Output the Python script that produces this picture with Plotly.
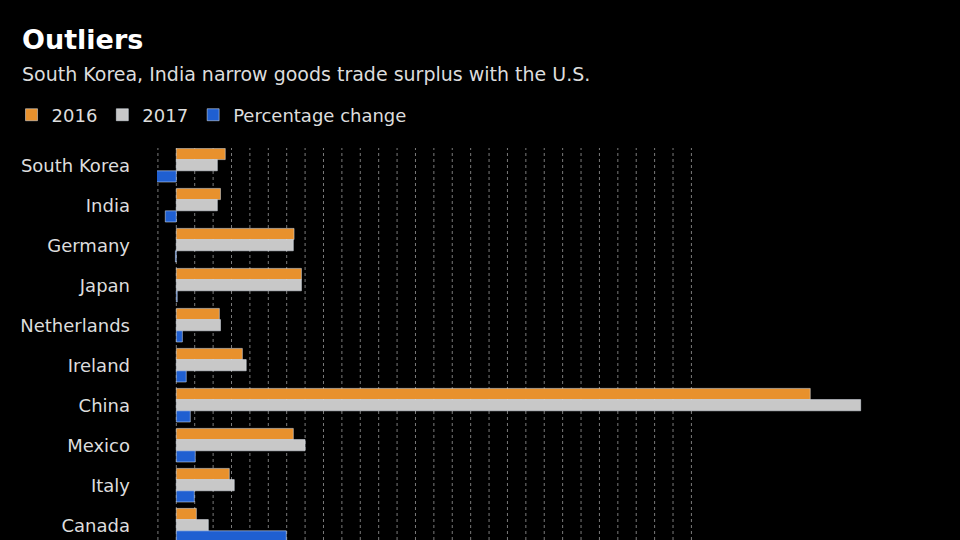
import plotly.graph_objs as go


def plot_outliers(outfile):
    countries = ['South Korea', 'India', 'Germany', 'Japan', 'Netherlands',
                 'Ireland', 'China', 'Mexico', 'Italy', 'Canada']
    y2016 = [26.6, 24.0, 64.0, 68.0, 23.4, 35.9, 344.6, 63.6, 28.8, 10.9]
    y2017 = [22.3, 22.3, 63.6, 68.0, 24.0, 38.0, 372.0, 70.0, 31.5, 17.4]
    pct = [-17.4, -6.0, -0.5, 0.5, 3.3, 5.4, 7.6, 10.3, 9.8, 59.8]

    data = [
        go.Bar(name='2016', y=countries, x=y2016, orientation='h', marker_color='#e8912d'),
        go.Bar(name='2017', y=countries, x=y2017, orientation='h', marker_color='#c8c8c8'),
        go.Bar(name='Percentage change', y=countries, x=pct, orientation='h', marker_color='#1f5fd1'),
    ]

    shapes = []
    for v in range(-10, 290, 10):  # dotted grid, stops short of China
        shapes.append(dict(type='line', xref='x', yref='paper', x0=v, x1=v, y0=0, y1=1,
                           line=dict(color='#7a7a7a', width=1, dash='dot'), layer='below'))

    layout = go.Layout(
        width=960, height=540,
        paper_bgcolor='black', plot_bgcolor='black',
        font=dict(family='DejaVu Sans', color='#dddddd', size=17),
        barmode='group', bargap=0.16, bargroupgap=0,
        margin=dict(l=157, r=0, t=148, b=0),
        showlegend=True,
        legend=dict(orientation='h', x=0.012, y=0.787, xref='container', yref='container',
                    yanchor='middle', font=dict(size=18, color='#dddddd'), traceorder='normal',
                    bgcolor='rgba(0,0,0,0)'),
        xaxis=dict(range=[-10.5, 426], showgrid=False, zeroline=False, showticklabels=False),
        yaxis=dict(range=[9.37, -0.43], showgrid=False, ticks='', ticklabelstandoff=26,
                   tickfont=dict(size=18)),
        shapes=shapes,
        annotations=[
            dict(text='<b>Outliers</b>', x=-0.17, y=1.276, xref='paper', yref='paper', xanchor='left',
                 yanchor='middle', showarrow=False, font=dict(size=27, color='white')),
            dict(text='South Korea, India narrow goods trade surplus with the U.S.', x=-0.17, y=1.19,
                 xref='paper', yref='paper', xanchor='left', yanchor='middle', showarrow=False,
                 font=dict(size=19, color='#dddddd')),
        ],
    )

    fig = go.Figure(data=data, layout=layout)
    fig.write_html(outfile, config={'displayModeBar': False},
                   post_script="document.body.style.margin='0';")


plot_outliers('out.html')
